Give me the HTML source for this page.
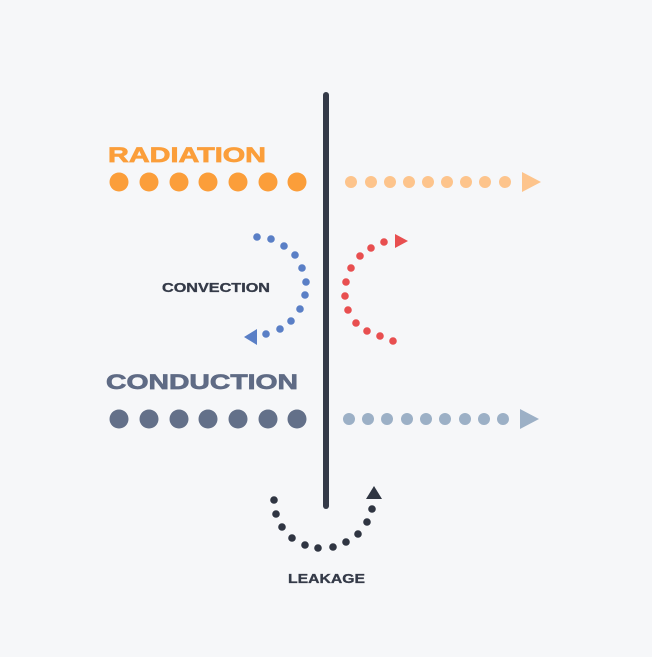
<!DOCTYPE html>
<html><head><style>html,body{margin:0;padding:0;background:#f6f7f9}</style></head>
<body>
<svg width="652" height="652" viewBox="0 0 652 652" xmlns="http://www.w3.org/2000/svg" font-family="Liberation Sans, sans-serif" font-weight="bold">
<rect width="652" height="652" fill="#f6f7f9"/>
<line x1="326" y1="95" x2="326" y2="506" stroke="#343a48" stroke-width="6" stroke-linecap="round"/>
<text x="108" y="162" font-size="21" fill="#fb9e3a" stroke="#fb9e3a" stroke-width="0.7" textLength="158" lengthAdjust="spacingAndGlyphs">RADIATION</text>
<g fill="#fb9e3a">
<circle cx="119" cy="182" r="9.5"/><circle cx="149" cy="182" r="9.5"/><circle cx="179" cy="182" r="9.5"/><circle cx="208" cy="182" r="9.5"/><circle cx="238" cy="182" r="9.5"/><circle cx="268" cy="182" r="9.5"/><circle cx="297" cy="182" r="9.5"/></g>
<g fill="#fdc48c">
<circle cx="351" cy="182" r="6"/><circle cx="371" cy="182" r="6"/><circle cx="390" cy="182" r="6"/><circle cx="409" cy="182" r="6"/><circle cx="428" cy="182" r="6"/><circle cx="447" cy="182" r="6"/><circle cx="466" cy="182" r="6"/><circle cx="485" cy="182" r="6"/><circle cx="505" cy="182" r="6"/>
<polygon points="522,172 541,182 522,192"/></g>
<text x="162" y="292" font-size="12.5" fill="#343a48" stroke="#343a48" stroke-width="0.3" textLength="108" lengthAdjust="spacingAndGlyphs">CONVECTION</text>
<g fill="#5a7fc6">
<circle cx="257" cy="237" r="3.8"/><circle cx="271" cy="239" r="3.8"/><circle cx="284" cy="246" r="3.8"/><circle cx="295" cy="255" r="3.8"/><circle cx="302" cy="268" r="3.8"/><circle cx="306" cy="282" r="3.8"/><circle cx="305" cy="295" r="3.8"/><circle cx="300" cy="309" r="3.8"/><circle cx="291" cy="321" r="3.8"/><circle cx="280" cy="329" r="3.8"/><circle cx="266" cy="334" r="3.8"/>
<polygon points="244,337 257,329 257,345"/></g>
<g fill="#e84f50">
<circle cx="393" cy="341" r="3.8"/><circle cx="380" cy="336" r="3.8"/><circle cx="367" cy="331" r="3.8"/><circle cx="356" cy="323" r="3.8"/><circle cx="348" cy="310" r="3.8"/><circle cx="345" cy="296" r="3.8"/><circle cx="346" cy="282" r="3.8"/><circle cx="351" cy="268" r="3.8"/><circle cx="360" cy="256" r="3.8"/><circle cx="371" cy="248" r="3.8"/><circle cx="384" cy="242" r="3.8"/>
<polygon points="395,234 408,241 395,248"/></g>
<text x="106" y="389" font-size="21" fill="#5f6b85" stroke="#5f6b85" stroke-width="0.7" textLength="192" lengthAdjust="spacingAndGlyphs">CONDUCTION</text>
<g fill="#637089">
<circle cx="119" cy="419" r="9.5"/><circle cx="149" cy="419" r="9.5"/><circle cx="179" cy="419" r="9.5"/><circle cx="208" cy="419" r="9.5"/><circle cx="238" cy="419" r="9.5"/><circle cx="268" cy="419" r="9.5"/><circle cx="297" cy="419" r="9.5"/></g>
<g fill="#9cb0c6">
<circle cx="349" cy="419" r="6"/><circle cx="368" cy="419" r="6"/><circle cx="387" cy="419" r="6"/><circle cx="407" cy="419" r="6"/><circle cx="426" cy="419" r="6"/><circle cx="445" cy="419" r="6"/><circle cx="465" cy="419" r="6"/><circle cx="484" cy="419" r="6"/><circle cx="503" cy="419" r="6"/>
<polygon points="520,409 539,419 520,429"/></g>
<g fill="#2f3542">
<circle cx="274" cy="500" r="3.8"/><circle cx="276" cy="514" r="3.8"/><circle cx="282" cy="527" r="3.8"/><circle cx="292" cy="538" r="3.8"/><circle cx="305" cy="545" r="3.8"/><circle cx="318" cy="548" r="3.8"/><circle cx="333" cy="547" r="3.8"/><circle cx="346" cy="542" r="3.8"/><circle cx="358" cy="534" r="3.8"/><circle cx="367" cy="522" r="3.8"/><circle cx="372" cy="509" r="3.8"/>
<polygon points="374,486 382,499 366,499"/></g>
<text x="288" y="583" font-size="12.5" fill="#343a48" stroke="#343a48" stroke-width="0.3" textLength="77" lengthAdjust="spacingAndGlyphs">LEAKAGE</text>
</svg>
</body></html>
